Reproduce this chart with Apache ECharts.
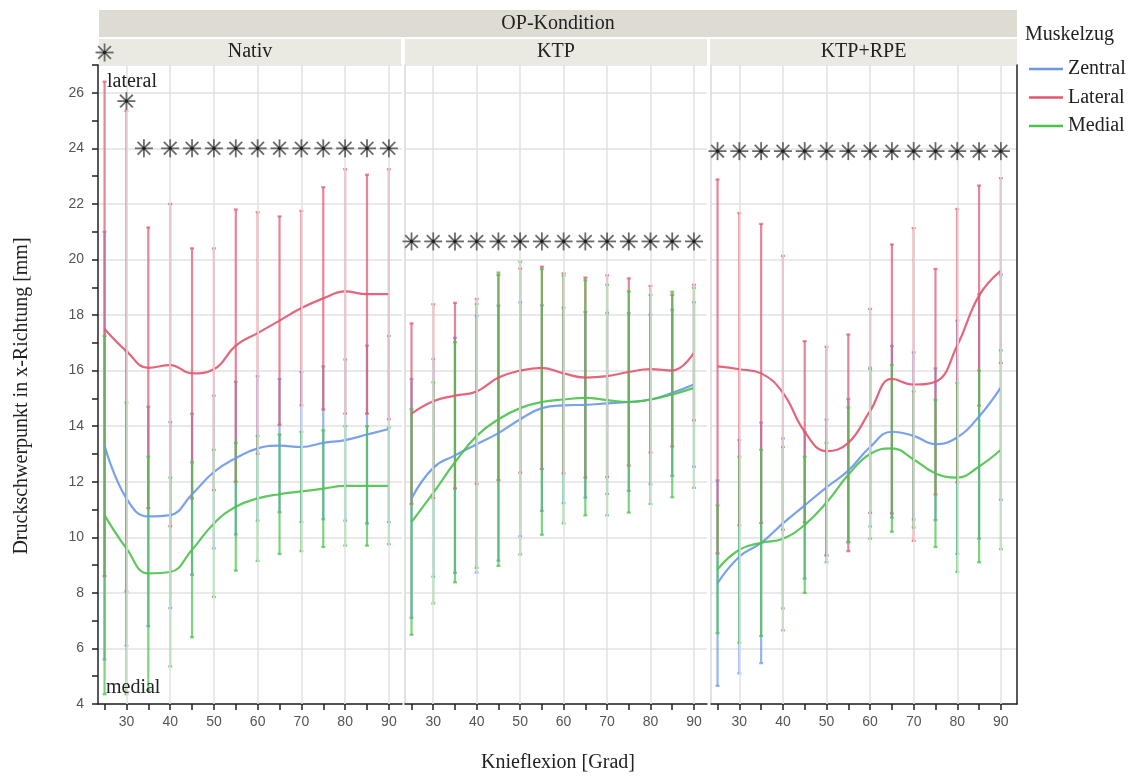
<!DOCTYPE html>
<html><head><meta charset="utf-8">
<script src="https://cdn.jsdelivr.net/npm/echarts@6/dist/echarts.min.js"></script>
<style>html,body{margin:0;padding:0;background:#fff}#c{width:1142px;height:778px}</style>
</head><body><div id="c"></div>
<script>
// ---------- data ----------
const flexion = [25,30,35,40,45,50,55,60,65,70,75,80,85,90];
const xTickLabels = [30,40,50,60,70,80,90];
const gridX = [30,40,50,60,70,80,90];
const panelNames = ['Nativ','KTP','KTP+RPE'];
const muscleNames = ['Zentral','Lateral','Medial'];

// Nativ (mean, SD)
const zentralNativMean = [13.3,11.4,10.75,10.8,11.55,12.35,12.85,13.2,13.3,13.25,13.4,13.5,13.7,13.9];
const zentralNativSD   = [7.7,5.3,3.95,3.35,2.9,2.75,2.75,2.6,2.4,2.7,2.75,2.9,3.2,3.35];
const lateralNativMean = [17.5,16.7,16.1,16.2,15.9,16.05,16.9,17.35,17.8,18.25,18.6,18.85,18.75,18.75];
const lateralNativSD   = [8.9,8.65,5.05,5.8,4.5,4.35,4.9,4.35,3.75,3.5,4.0,4.4,4.3,4.5];
const medialNativMean  = [10.8,9.6,8.7,8.75,9.55,10.5,11.1,11.4,11.55,11.65,11.75,11.85,11.85,11.85];
const medialNativSD    = [6.45,5.25,4.2,3.4,3.15,2.65,2.3,2.25,2.15,2.15,2.1,2.15,2.15,2.1];

// KTP
const zentralKTPMean = [11.4,12.5,12.95,13.35,13.75,14.25,14.65,14.75,14.77,14.82,14.87,14.96,15.2,15.5];
const zentralKTPSD   = [4.3,3.92,4.23,4.62,4.59,4.21,3.7,3.52,3.34,3.26,3.2,3.05,2.99,2.96];
const lateralKTPMean = [14.45,14.9,15.1,15.25,15.75,16.0,16.1,15.9,15.75,15.8,15.95,16.05,16.0,16.65];
const lateralKTPSD   = [3.25,3.49,3.34,3.33,3.69,3.67,3.64,3.6,3.6,3.63,3.37,3.0,2.73,2.44];
const medialKTPMean  = [10.55,11.6,12.7,13.65,14.25,14.65,14.87,14.96,15.02,14.94,14.87,14.96,15.14,15.38];
const medialKTPSD    = [4.06,3.98,4.32,4.75,5.28,5.27,4.78,4.46,4.23,4.15,3.98,3.76,3.7,3.6];

// KTP+RPE
const zentralRPEMean = [8.35,9.3,9.8,10.5,11.15,11.8,12.4,13.25,13.8,13.65,13.35,13.6,14.35,15.4];
const zentralRPESD   = [3.7,4.2,4.33,3.06,2.64,2.44,2.58,2.86,3.09,3.01,2.73,4.2,4.4,4.05];
const lateralRPEMean = [16.15,16.05,15.9,15.2,13.8,13.1,13.4,14.55,15.7,15.5,15.6,16.9,18.7,19.6];
const lateralRPESD   = [6.73,5.62,5.38,4.93,3.26,3.76,3.9,3.67,4.84,5.63,4.06,4.92,3.96,3.33];
const medialRPEMean  = [8.85,9.55,9.8,9.95,10.45,11.25,12.25,13.0,13.2,12.8,12.3,12.15,12.55,13.15];
const medialRPESD    = [2.3,3.35,3.35,3.3,2.45,2.15,2.42,3.05,3.0,2.45,2.65,3.4,3.45,3.58];

// significance asterisks (x, y level)
const sigNativX = [25,30,34,40,45,50,55,60,65,70,75,80,85,90];
const sigNativY = [27.45,25.7,24,24,24,24,24,24,24,24,24,24,24,24];
const sigKTPX = [25,30,35,40,45,50,55,60,65,70,75,80,85,90];
const sigKTPY = [20.65,20.65,20.65,20.65,20.65,20.65,20.65,20.65,20.65,20.65,20.65,20.65,20.65,20.65];
const sigRPEX = [25,30,35,40,45,50,55,60,65,70,75,80,85,90];
const sigRPEY = [23.9,23.9,23.9,23.9,23.9,23.9,23.9,23.9,23.9,23.9,23.9,23.9,23.9,23.9];

// ---------- build ----------
const colors = ['#6b98e6','#e0566e','#4cc24c'];
const panelData = [
  {means:[zentralNativMean,lateralNativMean,medialNativMean], sds:[zentralNativSD,lateralNativSD,medialNativSD], sx:sigNativX, sy:sigNativY},
  {means:[zentralKTPMean,lateralKTPMean,medialKTPMean], sds:[zentralKTPSD,lateralKTPSD,medialKTPSD], sx:sigKTPX, sy:sigKTPY},
  {means:[zentralRPEMean,lateralRPEMean,medialRPEMean], sds:[zentralRPESD,lateralRPESD,medialRPESD], sx:sigRPEX, sy:sigRPEY}
];
const grids = [
  {left:98, top:65, width:304, height:639},
  {left:405, top:65, width:302, height:639},
  {left:711, top:65, width:306, height:639}
];
const xMax = [93, 93, 93.7];
const serif = 'Liberation Serif';
const sans = 'Liberation Sans';

const xAxes = grids.map((g,i)=>({
  type:'value', gridIndex:i, min:23.5, max:xMax[i],
  axisLine:{show:true, lineStyle:{color:'#222', width:1.5}},
  axisTick:{show:true, customValues:flexion, length:6, lineStyle:{color:'#222', width:1.5}},
  axisLabel:{customValues:xTickLabels, fontFamily:sans, fontSize:14, color:'#555', margin:11},
  splitLine:{show:false}
}));
const yAxes = [];
grids.forEach((g,i)=>{
  yAxes.push({
    type:'value', gridIndex:i, min:4, max:27, interval:2, position:'left',
    axisLine:{show:true, lineStyle:{color: i===0 ? '#222' : '#d9d9d9', width:1.5}},
    axisTick:{show:false},
    axisLabel:{show:i===0, fontFamily:sans, fontSize:14, color:'#555', margin:14, showMaxLabel:false},
    splitLine:{show:true, lineStyle:{color:'#e2e2e2', width:1.5}}
  });
});
// integer ticks on the first panel
yAxes.push({type:'value', gridIndex:0, min:4, max:27, interval:1, position:'left',
  axisLine:{show:false}, axisLabel:{show:false}, splitLine:{show:false},
  axisTick:{show:true, length:6, lineStyle:{color:'#222', width:1.5}}});
// right frame line
yAxes.push({type:'value', gridIndex:2, min:4, max:27, interval:2, position:'right',
  axisLine:{show:true, lineStyle:{color:'#222', width:1.5}}, axisLabel:{show:false},
  axisTick:{show:false}, splitLine:{show:false}});

function errRender(color){
  return function(params, api){
    const x = api.value(0), lo = api.value(1), hi = api.value(2);
    const a = api.coord([x, lo]), b = api.coord([x, hi]);
    const w = 2;
    const style = {stroke:color, lineWidth:2.2, opacity:0.72};
    return {type:'group', children:[
      {type:'line', shape:{x1:a[0],y1:a[1],x2:b[0],y2:b[1]}, style:style},
      {type:'line', shape:{x1:a[0]-w,y1:a[1],x2:a[0]+w,y2:a[1]}, style:style},
      {type:'line', shape:{x1:b[0]-w,y1:b[1],x2:b[0]+w,y2:b[1]}, style:style}
    ]};
  };
}
function starRender(params, api){
  const p = api.coord([api.value(0), api.value(1)]);
  const r = 9, kids = [];
  for (let k=0;k<4;k++){
    const ang = k*Math.PI/4;
    const dx = Math.cos(ang)*r, dy = Math.sin(ang)*r;
    kids.push({type:'line', shape:{x1:p[0]-dx,y1:p[1]-dy,x2:p[0]+dx,y2:p[1]+dy},
      style:{stroke:'#6a6a6a', lineWidth:1.8}});
  }
  kids.push({type:'circle', shape:{cx:p[0], cy:p[1], r:1.8}, style:{fill:'#222'}});
  return {type:'group', children:kids};
}

const series = [];
panelData.forEach((pd, pi)=>{
  // vertical grid lines
  series.push({type:'line', name:'grid'+pi, xAxisIndex:pi, yAxisIndex:pi, data:[], z:1, silent:true,
    markLine:{silent:true, symbol:'none', label:{show:false},
      lineStyle:{color:'#e2e2e2', width:1.5, type:'solid'},
      data: gridX.map(v=>({xAxis:v}))}});
  muscleNames.forEach((m, mi)=>{
    const data = flexion.map((x,k)=>[x, pd.means[mi][k]-pd.sds[mi][k], pd.means[mi][k]+pd.sds[mi][k]]);
    series.push({type:'custom', name:m+' SD '+pi, xAxisIndex:pi, yAxisIndex:pi, z:2+mi*0.1,
      renderItem:errRender(colors[mi]), data:data, encode:{x:0, y:[1,2]}, silent:true});
  });
  muscleNames.forEach((m, mi)=>{
    series.push({type:'line', name:m, xAxisIndex:pi, yAxisIndex:pi, z:4+mi*0.1,
      data: flexion.map((x,k)=>[x, pd.means[mi][k]]), smooth:0.45, showSymbol:false, symbol:'none',
      itemStyle:{color:colors[mi]}, lineStyle:{color:colors[mi], width:2.2, opacity:0.9}, silent:true});
  });
  series.push({type:'custom', name:'sig'+pi, xAxisIndex:pi, yAxisIndex:pi, z:6, clip:false,
    renderItem:starRender, data: pd.sx.map((x,k)=>[x, pd.sy[k]]), silent:true});
});

const graphic = [
  {type:'rect', shape:{x:99, y:10, width:918, height:27}, style:{fill:'#dedcd2'}, z:0},
  {type:'text', x:558, y:24, style:{text:'OP-Kondition', font:'20px "Liberation Serif"', fill:'#222', textAlign:'center', textVerticalAlign:'middle'}, z:1},
  {type:'text', x:1025, y:35, style:{text:'Muskelzug', font:'20px "Liberation Serif"', fill:'#222', textAlign:'left', textVerticalAlign:'middle'}, z:1},
  {type:'text', x:558, y:763, style:{text:'Knieflexion [Grad]', font:'20px "Liberation Serif"', fill:'#222', textAlign:'center', textVerticalAlign:'middle'}, z:1},
  {type:'text', x:22, y:396, rotation:Math.PI/2, style:{text:'Druckschwerpunkt in x-Richtung [mm]', font:'20px "Liberation Serif"', fill:'#222', textAlign:'center', textVerticalAlign:'middle'}, z:1},
  {type:'text', x:107, y:82, style:{text:'lateral', font:'20px "Liberation Serif"', fill:'#222', textAlign:'left', textVerticalAlign:'middle'}, z:10},
  {type:'text', x:106, y:688, style:{text:'medial', font:'20px "Liberation Serif"', fill:'#222', textAlign:'left', textVerticalAlign:'middle'}, z:10}
];
const strips = [[99,401],[405,707],[710,1017]];
strips.forEach((s,i)=>{
  graphic.push({type:'rect', shape:{x:s[0], y:39, width:s[1]-s[0], height:25}, style:{fill:'#eae9e2'}, z:0});
  graphic.push({type:'text', x:(s[0]+s[1])/2, y:52, style:{text:panelNames[i], font:'20px "Liberation Serif"', fill:'#222', textAlign:'center', textVerticalAlign:'middle'}, z:1});
});

const chart = echarts.init(document.getElementById('c'), null, {renderer:'canvas'});
chart.setOption({
  animation:false,
  backgroundColor:'#fff',
  grid: grids,
  xAxis: xAxes,
  yAxis: yAxes,
  legend: {data:muscleNames, orient:'vertical', left:1024, top:53, icon:'rect', itemWidth:34, itemHeight:2.5,
    itemGap:6.5, textStyle:{fontFamily:serif, fontSize:20, color:'#222', lineHeight:22}, selectedMode:false},
  graphic: graphic,
  series: series
});
</script></body></html>
